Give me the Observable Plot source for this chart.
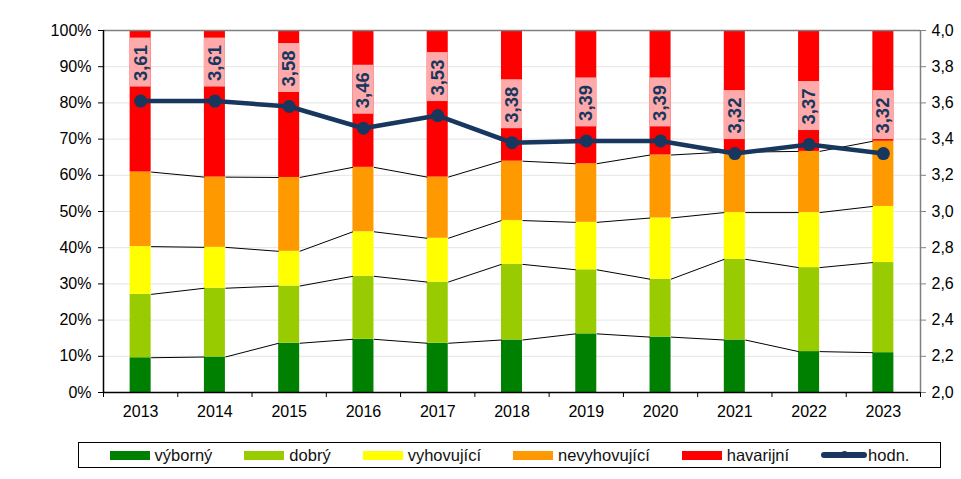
<!DOCTYPE html>
<html>
<head>
<meta charset="utf-8">
<script src="https://cdn.jsdelivr.net/npm/d3@7"></script>
<script src="https://cdn.jsdelivr.net/npm/@observablehq/plot@0.6"></script>
<style>
  html, body { margin: 0; padding: 0; background: #fff; }
  body { width: 961px; height: 479px; position: relative; font-family: "Liberation Sans", Arial, sans-serif; }
  #chart { position: absolute; left: 0; top: 0; }
  #legend {
    position: absolute; left: 78px; top: 442px; width: 861px; height: 24px;
    border: 1.5px solid #000; box-sizing: content-box;
    display: flex; align-items: center; justify-content: center; gap: 32px;
    font-size: 16.5px; color: #111;
  }
  .item { display: flex; align-items: center; gap: 5px; }
  .sw { width: 40px; height: 9px; }
  .ln { width: 46px; height: 6px; border-radius: 3px; position: relative; }
  .ln::after { content: ""; position: absolute; left: 20px; top: -1.5px; width: 7px; height: 7px; border-radius: 50%; background: inherit; }
</style>
</head>
<body>
<div id="chart"></div>
<div id="legend"></div>
<script>
// ---- data ----
const years = [2013, 2014, 2015, 2016, 2017, 2018, 2019, 2020, 2021, 2022, 2023];
const categories = ["výborný", "dobrý", "vyhovující", "nevyhovující", "havarijní"];
const vyborny     = [9.6, 9.8, 13.6, 14.7, 13.6, 14.5, 16.2, 15.3, 14.5, 11.3, 11.0];
const dobry       = [17.5, 19.0, 15.8, 17.4, 16.9, 20.9, 17.7, 16.0, 22.3, 23.2, 24.9];
const vyhovujici  = [13.2, 11.3, 9.6, 12.3, 12.1, 12.1, 13.1, 16.9, 12.9, 15.2, 15.5];
const nevyhovujici= [20.6, 19.4, 20.4, 17.8, 16.9, 16.4, 16.2, 17.4, 16.7, 16.9, 18.0];
const havarijni   = [39.1, 40.5, 40.6, 37.8, 40.5, 36.1, 36.8, 34.4, 33.6, 33.4, 30.6];
const hodn        = [3.61, 3.61, 3.58, 3.46, 3.53, 3.38, 3.39, 3.39, 3.32, 3.37, 3.32];
const leftTicks   = [0, 10, 20, 30, 40, 50, 60, 70, 80, 90, 100];
const rightMin = 2.0, rightMax = 4.0;

// ---- styles ----
const colors = ["#008000", "#99CC00", "#FFFF00", "#FF9900", "#FF0000"];
const navy = "#17375E";
const labelBg = "#FFAAAA";
const barHalf = 0.1415; // half bar width in category units

// ---- derived tables ----
const series = [vyborny, dobry, vyhovujici, nevyhovujici, havarijni];
const segs = [];
const bounds = [];
years.forEach((yr, i) => {
  let acc = 0;
  series.forEach((s, k) => {
    const y1 = acc, y2 = acc + s[i];
    segs.push({year: yr, cat: categories[k], y1, y2: k === series.length - 1 ? 100 : y2, color: colors[k]});
    acc = y2;
    bounds.push({year: yr, k, top: y2});
  });
});
const links = [];
for (let k = 0; k < series.length - 1; k++) {
  for (let i = 0; i < years.length - 1; i++) {
    const a = bounds.find(b => b.year === years[i] && b.k === k).top;
    const b = bounds.find(b => b.year === years[i + 1] && b.k === k).top;
    links.push({x1: years[i] + barHalf, x2: years[i + 1] - barHalf, y1: a, y2: b});
  }
}
const toPct = v => (v - rightMin) / (rightMax - rightMin) * 100;
const fromPct = p => rightMin + p / 100 * (rightMax - rightMin);
const hRows = years.map((yr, i) => ({year: yr, v: hodn[i], p: toPct(hodn[i]), label: hodn[i].toFixed(2).replace(".", ",")}));
const xDomain = [years[0] - 0.5, years[years.length - 1] + 0.5];
const boundaries = [...years.map(y => y - 0.5), years[years.length - 1] + 0.5];

const plot = Plot.plot({
  width: 961,
  height: 432,
  marginTop: 30,
  marginBottom: 40,
  marginLeft: 103,
  marginRight: 41,
  style: {fontFamily: "'Liberation Sans', Arial, sans-serif", fontSize: "16px", color: "#000", background: "transparent", overflow: "visible"},
  x: {type: "linear", domain: xDomain},
  y: {domain: [0, 100]},
  marks: [
    Plot.gridY(leftTicks, {stroke: "#e4e4e4", strokeOpacity: 1}),
    Plot.rect(segs, {x1: d => d.year - barHalf, x2: d => d.year + barHalf, y1: "y1", y2: "y2", fill: "color"}),
    Plot.link(links, {x1: "x1", x2: "x2", y1: "y1", y2: "y2", stroke: "#000", strokeWidth: 1}),
    Plot.rect(hRows, {x1: d => d.year - barHalf, x2: d => d.year + barHalf, y1: "p", y2: "p", insetTop: -63, insetBottom: 14, fill: labelBg}),
    Plot.line(hRows, {x: "year", y: "p", stroke: navy, strokeWidth: 4.5}),
    Plot.dot(hRows, {x: "year", y: "p", r: 6.5, fill: navy}),
    Plot.text(hRows, {x: "year", y: "p", text: "label", rotate: -90, dy: -38, fill: navy, fontSize: 18.5, fontWeight: "bold"}),
    Plot.ruleY([100], {stroke: "#808080", strokeWidth: 1.5}),
    Plot.ruleY([0], {stroke: "#000", strokeWidth: 1.5}),
    Plot.ruleX([xDomain[0]], {stroke: "#000", strokeWidth: 1.5}),
    Plot.ruleX([xDomain[1]], {stroke: "#808080", strokeWidth: 1.5}),
    Plot.axisY({ticks: leftTicks, tickFormat: d => d + "%", tickSize: 5, tickPadding: 7, fontSize: 16}),
    Plot.axisY({anchor: "right", ticks: leftTicks, tickFormat: () => "", tickSize: 5, stroke: "#808080"}),
    Plot.axisY({anchor: "right", ticks: leftTicks, tickFormat: d => fromPct(d).toFixed(1).replace(".", ","), tickSize: 0, tickPadding: 11, fontSize: 16}),
    Plot.axisX({ticks: years, tickFormat: d => String(d), tickSize: 0, tickPadding: 13, fontSize: 16}),
    Plot.axisX({ticks: boundaries, tickFormat: () => "", tickSize: 5})
  ]
});
document.getElementById("chart").appendChild(plot);

// ---- legend ----
const legend = document.getElementById("legend");
categories.forEach((c, k) => {
  const it = document.createElement("div");
  it.className = "item";
  it.innerHTML = `<span class="sw" style="background:${colors[k]}"></span><span>${c}</span>`;
  legend.appendChild(it);
});
const it = document.createElement("div");
it.className = "item";
it.style.gap = "1px";
it.innerHTML = `<span class="ln" style="background:${navy}"></span><span>hodn.</span>`;
legend.appendChild(it);
</script>
</body>
</html>
